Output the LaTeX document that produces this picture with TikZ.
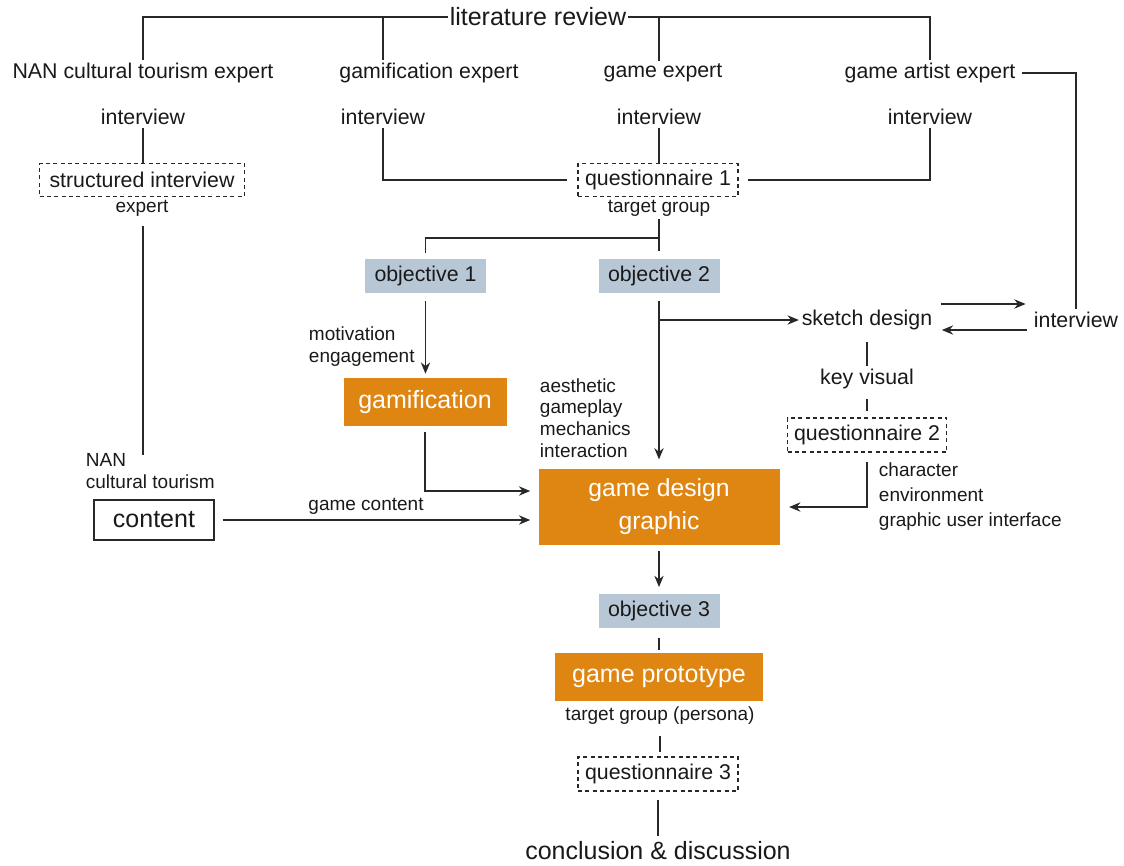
\documentclass[tikz,border=0pt]{standalone}
\usepackage{fontspec}
\setmainfont{Liberation Sans}
\usetikzlibrary{arrows.meta,calc}
\definecolor{orangeC}{RGB}{223,134,18}
\definecolor{blueC}{RGB}{184,199,213}
\definecolor{lineC}{RGB}{40,40,40}
\definecolor{txtC}{RGB}{25,25,25}
\newcommand{\dgSmall}{\fontsize{14.25}{16.3}\selectfont}
\newcommand{\dgSmallWide}{\fontsize{14.25}{18.75}\selectfont}
\newcommand{\dgReg}{\fontsize{16}{19}\selectfont}
\newcommand{\dgLarge}{\fontsize{18.75}{22}\selectfont}
\newcommand{\dgLargeTwo}{\fontsize{18.5}{24.75}\selectfont}
\begin{document}
\begin{tikzpicture}[x=0.75pt,y=-0.75pt,
  every node/.style={inner sep=2pt, text=txtC},
  txt/.style={font=\dgReg},
  stxt/.style={font=\dgSmall},
  ltxt/.style={font=\dgLarge},
  obj/.style={fill=blueC, font=\dgReg, minimum width=121*0.75pt, minimum height=34*0.75pt},
  obox/.style={fill=orangeC, text=white, font=\dgLarge},
  dbox/.style={draw=lineC, dash pattern=on 3pt off 2.5pt, line width=0.8pt, font=\dgReg, minimum width=160*0.75pt, minimum height=33*0.75pt},
  conn/.style={draw=lineC, line width=1pt},
  arr/.style={conn, -{Stealth[length=8.5pt,width=7pt]}},
]
\useasboundingbox (0,0) rectangle (1124,865);

% top row
\node[ltxt, inner sep=1pt] (lit) at (538,17) {literature review};
\node[txt] (nan) at (143,73) {NAN cultural tourism expert};
\node[txt] (gex) at (429,73) {gamification expert};
\node[txt] (gx) at (663,73) {game expert};
\node[txt] (gax) at (930,73) {game artist expert};
\node[txt] (int1) at (143,117) {interview};
\node[txt] (int2) at (383,117) {interview};
\node[txt] (int3) at (659,117) {interview};
\node[txt] (int4) at (930,117) {interview};
\node[dbox, minimum width=205*0.75pt] (sbox) at (142,180) {structured interview};
\node[dbox] (q1) at (658,180) {questionnaire 1};
\node[stxt] (exp1) at (142,208) {expert};
\node[stxt] (tg) at (659,208) {target group};
\coordinate (j1) at (659,238);

% objectives
\node[obj] (obj1) at (425.5,276) {objective 1};
\node[obj] (obj2) at (659,276) {objective 2};
\node[stxt, align=left, anchor=west] (mot) at (306,346.5) {motivation\\engagement};
\node[obox, minimum width=163*0.75pt, minimum height=48*0.75pt] (gam) at (425,402) {gamification};
\node[stxt, align=left, anchor=west] (aes) at (537,418) {aesthetic\\gameplay\\mechanics\\interaction};
\node[obox, align=center, minimum width=241*0.75pt, minimum height=76*0.75pt, font=\dgLargeTwo] (gd) at (659,507) {game design\\graphic};

% right branch
\node[txt] (sk) at (867,320) {sketch design};
\node[txt] (intR) at (1076,320) {interview};
\node[txt] (kv) at (867,379) {key visual};
\node[dbox, minimum width=159*0.75pt, minimum height=34*0.75pt] (q2) at (867,435) {questionnaire 2};
\node[align=left, anchor=west, font=\dgSmallWide] (chr) at (876,497) {character\\environment\\graphic user interface};

% left branch
\node[align=left, anchor=west, font=\fontsize{14.25}{16.5}\selectfont] (ncl) at (83,471) {NAN\\cultural tourism};
\coordinate (nanend) at (143,455);
\node[draw=lineC, line width=0.8pt, ltxt, minimum width=120*0.75pt, minimum height=40*0.75pt] (content) at (154,520) {content};
\node[stxt] (gcl) at (366,506) {game content};

% bottom chain
\node[obj] (obj3) at (659,611) {objective 3};
\node[obox, minimum width=208*0.75pt, minimum height=48*0.75pt] (gp) at (659,677) {game prototype};
\node[stxt] (tgp) at (660,716) {target group (persona)};
\node[dbox, minimum height=34*0.75pt] (q3) at (658,774) {questionnaire 3};
\node[ltxt] (concl) at (658,851) {conclusion \& discussion};

% connectors: top
\draw[conn] (lit.west) -| (nan.north);
\draw[conn] (lit.east) -| (gax.north);
\draw[conn] (int2 |- lit.west) -- (int2 |- gex.north);
\draw[conn] (int3 |- lit.east) -- (int3 |- gx.north);
\draw[conn, shorten <=3pt] (gax.east) -| (intR.north);
\draw[conn] (int1.south) -- (int1.south |- sbox.north);
\draw[conn, shorten >=8pt] (int2.south) |- (q1.west);
\draw[conn] (int3.south) -- (int3.south |- q1.north);
\draw[conn, shorten >=7pt] (int4.south) |- (q1.east);
\draw[conn, shorten <=5pt] (exp1.south -| nanend) -- (nanend);
\draw[conn, shorten >=6pt] (tg.south) -- (obj2.north);
\draw[conn, shorten >=4pt] (j1) -| (obj1.north);

% middle
\draw[arr, shorten <=6pt, shorten >=3pt] (obj1.south) -- (obj1.south |- gam.north);
\draw[arr, shorten <=4pt, shorten >=6pt] (gam.south) |- ($(gd.west)+(0,-16)$);
\draw[arr, shorten <=6pt, shorten >=7pt] (obj2.south) -- (gd.north);
\draw[arr] (obj2.south |- sk.west) -- (sk.west);
\draw[arr, shorten <=4pt, shorten >=4pt] ([yshift=12pt]sk.east) -- ([yshift=12pt]intR.west);
\draw[arr, shorten <=3pt, shorten >=5pt] ([yshift=-7.5pt]intR.west) -- ([yshift=-7.5pt]sk.east);
\draw[conn, shorten <=7pt] (sk.south) -- (kv.north);
\draw[conn, shorten <=5pt, shorten >=4.5pt] (kv.south) -- (q2.north);
\draw[arr, shorten <=7pt, shorten >=7pt] (q2.south) |- (gd.east);
\draw[arr, shorten <=6pt, shorten >=6pt] (content.east) -- (content.east -| gd.west);

% bottom
\draw[arr, shorten <=4pt, shorten >=5pt] (gd.south) -- (obj3.north);
\draw[conn, shorten <=7pt, shorten >=2pt] (obj3.south) -- (gp.north);
\draw[conn, shorten <=6.5pt, shorten >=3.5pt] (tgp.south) -- (tgp.south |- q3.north);
\draw[conn, shorten <=6.5pt, shorten >=2pt] (q3.south) -- (q3.south |- concl.north);
\end{tikzpicture}
\end{document}
